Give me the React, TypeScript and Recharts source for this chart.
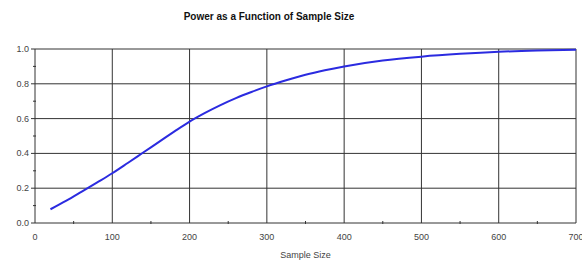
import React from 'react';
import { LineChart, Line, XAxis, YAxis, ReferenceLine } from 'recharts';

const sampleSizes = [20, 40, 60, 80, 100, 120, 140, 160, 180, 200, 220, 240, 260, 280, 300, 325, 350, 375, 400, 450, 500, 550, 600, 650, 700];
const powerValues = [0.079, 0.127, 0.179, 0.232, 0.286, 0.345, 0.405, 0.465, 0.525, 0.583, 0.633, 0.678, 0.718, 0.753, 0.785, 0.82, 0.852, 0.878, 0.9, 0.934, 0.956, 0.972, 0.984, 0.991, 0.995];
const xTicks = [0, 50, 100, 150, 200, 250, 300, 350, 400, 450, 500, 550, 600, 650, 700];
const xGrid = [100, 200, 300, 400, 500, 600, 700];
const yTicks = [0, 0.1, 0.2, 0.3, 0.4, 0.5, 0.6, 0.7, 0.8, 0.9, 1.0];
const yGrid = [0.2, 0.4, 0.6, 0.8, 1.0];

const data = sampleSizes.map((n, i) => ({ n, power: powerValues[i] }));

const FONT = '"Liberation Sans", Arial, sans-serif';
const AXIS = '#333';

const XTick = (props: any) => {
  const { x, y, payload } = props;
  const v = payload.value;
  const major = v % 100 === 0;
  if (!major) {
    return <line x1={x} x2={x} y1={y - 2} y2={y + 1} stroke={AXIS} />;
  }
  return (
    <text x={x} y={y + 17} textAnchor="middle" fontSize={9} fill="#444" fontFamily={FONT}>
      {v}
    </text>
  );
};

const YTick = (props: any) => {
  const { x, y, payload } = props;
  const v = payload.value;
  const major = Math.round(v * 10) % 2 === 0;
  if (!major) {
    return <line x1={x - 2} x2={x + 1} y1={y} y2={y} stroke={AXIS} />;
  }
  return (
    <g>
      <line x1={x - 4} x2={x} y1={y} y2={y} stroke={AXIS} />
      <text x={x - 6} y={y + 3} textAnchor="end" fontSize={9} fill="#444" fontFamily={FONT}>
        {v.toFixed(1)}
      </text>
    </g>
  );
};

export default function App() {
  return (
    <div style={{ position: 'absolute', left: 0, top: 0, width: 582, height: 260, background: '#fff' }}>
      <div
        style={{
          position: 'absolute',
          left: 0,
          top: 11,
          width: 538,
          textAlign: 'center',
          fontFamily: FONT,
          fontWeight: 'bold',
          fontSize: 10,
          color: '#111',
        }}
      >
        Power as a Function of Sample Size
      </div>
      <LineChart width={582} height={260} data={data} margin={{ top: 49, right: 6, left: 0, bottom: 0 }}>
        <XAxis
          dataKey="n"
          type="number"
          domain={[0, 700]}
          ticks={xTicks}
          interval={0}
          tickLine={false}
          tickSize={0}
          tickMargin={0}
          tick={<XTick />}
          axisLine={{ stroke: AXIS }}
          height={37}
          label={{ value: 'Sample Size', position: 'insideBottom', offset: 2, fontSize: 9, fill: '#444', fontFamily: FONT }}
        />
        <YAxis
          type="number"
          domain={[0, 1]}
          ticks={yTicks}
          interval={0}
          tickLine={false}
          tickSize={0}
          tickMargin={0}
          tick={<YTick />}
          axisLine={{ stroke: AXIS }}
          width={35}
        />
        {xGrid.map((v) => (
          <ReferenceLine key={'x' + v} x={v} stroke={AXIS} strokeWidth={1} />
        ))}
        {yGrid.map((v) => (
          <ReferenceLine key={'y' + v} y={v} stroke={AXIS} strokeWidth={1} />
        ))}
        <Line
          type="monotone"
          dataKey="power"
          stroke="#2b2be0"
          strokeWidth={2}
          dot={false}
          isAnimationActive={false}
        />
      </LineChart>
    </div>
  );
}
